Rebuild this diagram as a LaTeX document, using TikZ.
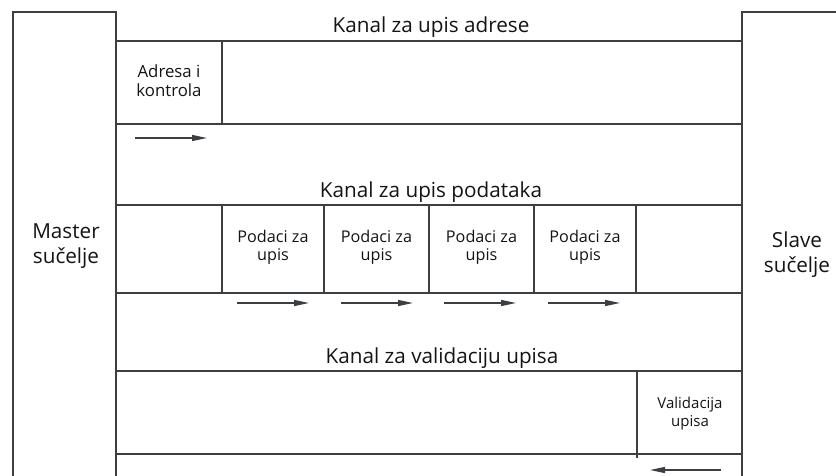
\documentclass[tikz,border=0pt]{standalone}
\usepackage{fontspec}
\setmainfont{Open Sans}
\usetikzlibrary{arrows.meta}
\definecolor{wallgray}{HTML}{3B3E43}
\definecolor{inkgray}{HTML}{141414}
\tikzset{
  wall/.style={draw=wallgray, line width=2.4pt},
  flow/.style={draw=wallgray, line width=1.3pt, -{Triangle[length=15pt,width=6pt]}},
  head/.style={text=inkgray, anchor=base, inner sep=0pt, font=\fontsize{20.7}{24}\selectfont},
  side/.style={text=inkgray, align=center, inner sep=0pt, font=\fontsize{20.7}{25}\selectfont},
  cell/.style={text=inkgray, align=center, inner sep=0pt, font=\fontsize{16.2}{18}\selectfont}
}

\begin{document}
\begin{tikzpicture}[x=1pt, y=-1pt]
        \useasboundingbox (0,0) rectangle (836,475);
        \draw[wall] (13,12) rectangle (116,490);
        \draw[wall] (742,12) rectangle (852,490);
        \foreach \y in {41,124,205,293,371,454}
          \draw[wall] (116,\y) -- (742,\y);
        \draw[wall] (222,41) -- (222,124);
        \foreach \x in {222,324,429,534,636}
          \draw[wall] (\x,205) -- (\x,293);
        \draw[wall] (637,371) -- (637,458);
        \node[head] (hAddr) at (431,32) {Kanal za upis adrese};
        \node[head] (hData) at (431,197) {Kanal za upis podataka};
        \node[head] (hResp) at (442,363) {Kanal za validaciju upisa};
        \node[side] (master) at (66,246) {Master\\sučelje};
        \node[side] (slave) at (797,255) {Slave\\sučelje};
        \node[cell, font=\fontsize{16.8}{18.5}\selectfont] (addr) at (169,80.5) {Adresa i\\kontrola};
        \foreach \x [count=\i] in {273,376.5,481.5,585}
          \node[cell] (data\i) at (\x,247.5) {Podaci za\\upis};
        \node[cell, font=\fontsize{15}{18}\selectfont] (resp) at (690,414) {Validacija\\upisa};
        \coordinate (a0) at (135,138);
        \draw[flow] (a0) -- ++(72,0);
        \foreach \x [count=\i] in {237,341,444,548} {
          \coordinate (d\i) at (\x,303);
          \draw[flow] (d\i) -- ++(72,0);
        }
        \coordinate (r0) at (721,470);
        \draw[flow] (r0) -- ++(-71,0);
      \end{tikzpicture}
\end{document}
